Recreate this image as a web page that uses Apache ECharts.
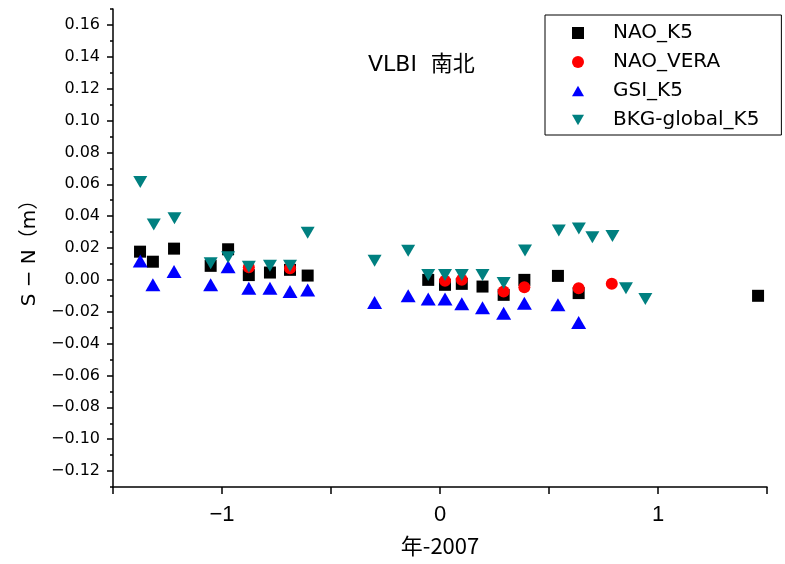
<!DOCTYPE html>
<html>
<head>
<meta charset="utf-8">
<script src="https://cdn.jsdelivr.net/npm/echarts@6/dist/echarts.min.js"></script>
<style>html,body{margin:0;padding:0;background:#fff}#c{width:785px;height:564px}</style>
</head>
<body>
<div id="c"></div>
<script>
// ---- data ----
const seriesNames = ['NAO_K5', 'NAO_VERA', 'GSI_K5', 'BKG-global_K5'];
const xNAO_K5 = [-1.376, -1.317, -1.220, -1.052, -0.972, -0.877, -0.780, -0.688, -0.607, -0.054, 0.023, 0.100, 0.195, 0.292, 0.387, 0.541, 0.636, 1.459];
const yNAO_K5 = [0.0177, 0.0114, 0.0196, 0.0088, 0.0192, 0.0030, 0.0046, 0.0063, 0.0027, 0.0000, -0.0031, -0.0025, -0.0042, -0.0094, 0.0000, 0.0025, -0.0083, -0.0100];
const xNAO_VERA = [-0.877, -0.688, 0.023, 0.100, 0.292, 0.387, 0.636, 0.788];
const yNAO_VERA = [0.0079, 0.0073, -0.0006, 0.0000, -0.0073, -0.0046, -0.0052, -0.0025];
const xGSI_K5 = [-1.375, -1.317, -1.220, -1.052, -0.972, -0.877, -0.780, -0.688, -0.607, -0.300, -0.146, -0.054, 0.023, 0.100, 0.195, 0.292, 0.387, 0.541, 0.636];
const yGSI_K5 = [0.0119, -0.0030, 0.0052, -0.0030, 0.0083, -0.0052, -0.0052, -0.0073, -0.0063, -0.0142, -0.0100, -0.0120, -0.0120, -0.0150, -0.0175, -0.0210, -0.0146, -0.0156, -0.0267];
const xBKG = [-1.375, -1.313, -1.218, -1.052, -0.972, -0.877, -0.780, -0.688, -0.607, -0.300, -0.146, -0.054, 0.023, 0.100, 0.195, 0.292, 0.390, 0.545, 0.637, 0.699, 0.791, 0.853, 0.942];
const yBKG = [0.0614, 0.0348, 0.0386, 0.0104, 0.0142, 0.0083, 0.0088, 0.0088, 0.0296, 0.0120, 0.0183, 0.0031, 0.0031, 0.0031, 0.0031, -0.0020, 0.0185, 0.0310, 0.0323, 0.0267, 0.0275, -0.0052, -0.0120];
const yMajorTicks = [-0.12, -0.10, -0.08, -0.06, -0.04, -0.02, 0.00, 0.02, 0.04, 0.06, 0.08, 0.10, 0.12, 0.14, 0.16];
const yMinorTicks = [-0.13, -0.11, -0.09, -0.07, -0.05, -0.03, -0.01, 0.01, 0.03, 0.05, 0.07, 0.09, 0.11, 0.13, 0.15, 0.17];
const xTickLabels = [-1, 0, 1];

const zip = (xs, ys) => xs.map((x, i) => [x, ys[i]]);
const minus = s => String(s).replace('-', '\u2212');

const chart = echarts.init(document.getElementById('c'), null, {renderer: 'canvas'});
const squareP = 'path://M0,0L10,0L10,10L0,10Z';
const upTri = 'path://M5,0L10,8.6L0,8.6Z';
const downTri = 'path://M0,0L10,0L5,8.6Z';

chart.setOption({
  animation: false,
  backgroundColor: '#fff',
  title: {
    text: 'VLBI  南北',
    left: 363, top: 49,
    textStyle: {fontFamily: 'DejaVu Sans, Noto Sans CJK JP', fontSize: 22, fontWeight: 'normal', color: '#000'}
  },
  grid: {left: 113, right: 18, top: 9, bottom: 77, containLabel: false},
  legend: {
    orient: 'vertical',
    left: 545, top: 15,
    padding: [8, 22, 5, 27],
    itemGap: 9,
    itemWidth: 12, itemHeight: 12,
    borderColor: '#000', borderWidth: 1,
    backgroundColor: '#fff',
    data: [
      {name: seriesNames[0], icon: squareP},
      {name: seriesNames[1], icon: 'circle'},
      {name: seriesNames[2], icon: upTri},
      {name: seriesNames[3], icon: downTri}
    ],
    textStyle: {fontFamily: 'DejaVu Sans', fontSize: 20, color: '#000', lineHeight: 20, padding: [0, 0, 0, 24]}
  },
  xAxis: {
    type: 'value', min: -1.5, max: 1.5, interval: 0.5,
    name: '年-2007', nameLocation: 'middle', nameGap: 48,
    nameTextStyle: {fontFamily: 'Noto Sans CJK JP', fontSize: 22, color: '#000'},
    axisLine: {show: true, onZero: false, lineStyle: {color: '#000', width: 1.5}},
    axisTick: {show: true, inside: false, length: 7, lineStyle: {color: '#000', width: 1.5}},
    axisLabel: {
      margin: 17, fontFamily: 'Liberation Sans Narrow, Liberation Sans', fontSize: 22, color: '#000',
      formatter: v => (xTickLabels.some(t => Math.abs(t - v) < 1e-9) ? minus(Math.round(v)) : '')
    },
    splitLine: {show: false}
  },
  yAxis: [{
    type: 'value', min: -0.13, max: 0.17,
    name: 'S − N（m）', nameLocation: 'middle', nameRotate: 90, nameGap: 70,
    nameTextStyle: {fontFamily: 'DejaVu Sans, Noto Sans CJK JP', fontSize: 20, color: '#000'},
    axisLine: {show: true, onZero: false, lineStyle: {color: '#000', width: 1.5}},
    axisTick: {show: true, length: 6, customValues: yMajorTicks, lineStyle: {color: '#000', width: 1.5}},
    axisLabel: {show: true, margin: 13, customValues: yMajorTicks, fontFamily: 'DejaVu Sans', fontSize: 16, color: '#000',
      formatter: v => minus(v.toFixed(2))},
    splitLine: {show: false}
  }, {
    type: 'value', min: -0.13, max: 0.17, position: 'left',
    axisLine: {show: false, onZero: false},
    axisTick: {show: true, length: 3, customValues: yMinorTicks, lineStyle: {color: '#000', width: 1.5}},
    axisLabel: {show: false},
    splitLine: {show: false}
  }],
  series: [
    {name: seriesNames[0], type: 'scatter', yAxisIndex: 0, symbol: squareP, symbolSize: 12,
      itemStyle: {color: '#000000', opacity: 1}, data: zip(xNAO_K5, yNAO_K5), z: 2},
    {name: seriesNames[1], type: 'scatter', yAxisIndex: 0, symbol: 'circle', symbolSize: 12,
      itemStyle: {color: '#ff0000', opacity: 1}, data: zip(xNAO_VERA, yNAO_VERA), z: 3},
    {name: seriesNames[2], type: 'scatter', yAxisIndex: 0, symbol: upTri, symbolSize: [15, 13],
      itemStyle: {color: '#0000ff', opacity: 1}, data: zip(xGSI_K5, yGSI_K5), z: 4},
    {name: seriesNames[3], type: 'scatter', yAxisIndex: 0, symbol: downTri, symbolSize: [14, 12],
      itemStyle: {color: '#008080', opacity: 1}, data: zip(xBKG, yBKG), z: 5}
  ]
});
</script>
</body>
</html>
